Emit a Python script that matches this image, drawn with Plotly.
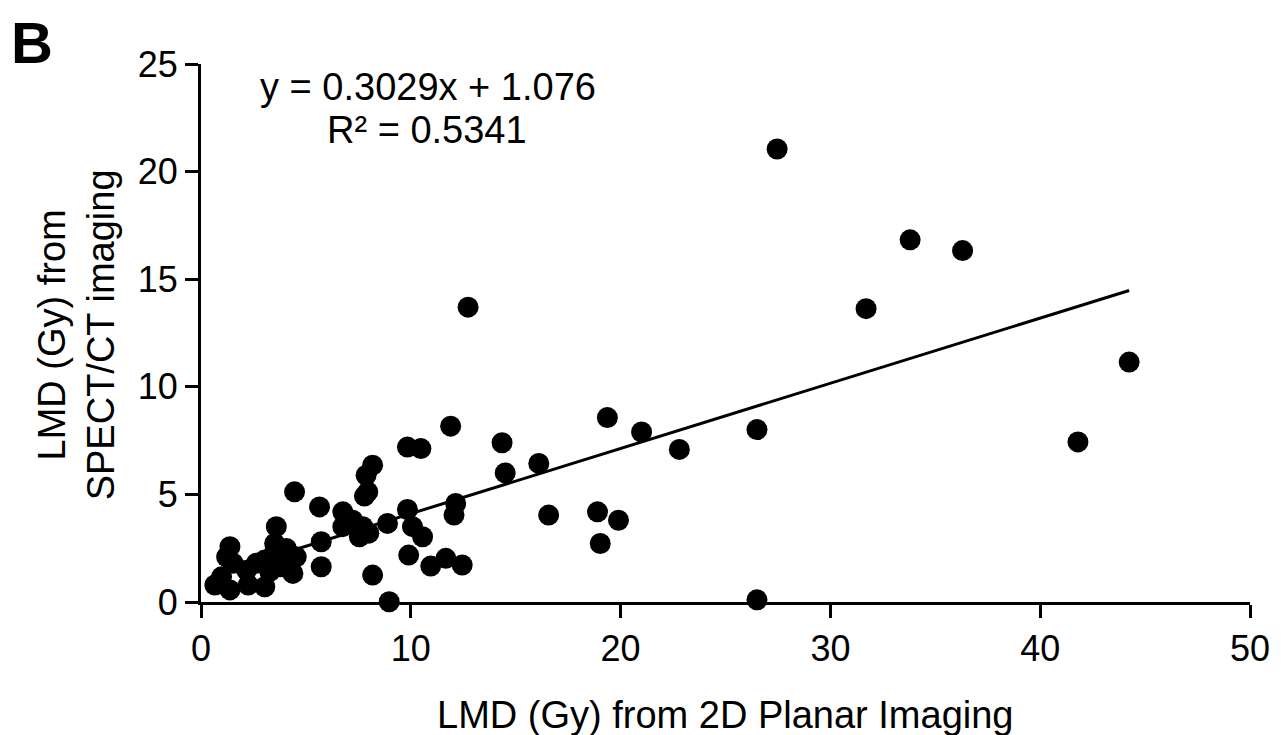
import plotly.graph_objects as go

# LMD (Gy) from 2D planar imaging (x) vs SPECT/CT imaging (y)
planar_x = [27.46, 33.8, 36.3, 31.7, 44.24, 41.8, 26.5, 26.5, 12.73,
            11.9, 9.84, 10.48, 14.35, 14.5, 16.1, 19.37, 21.0, 22.8, 12.14, 12.06,
            16.57, 18.9, 19.9, 19.03, 9.84, 10.08, 10.56, 9.9, 10.95, 11.67, 12.45,
            8.18, 7.87, 7.95, 7.79, 4.46, 5.65, 6.76, 7.23, 7.71, 8.0, 7.55, 6.76,
            8.89, 5.73, 5.73, 8.18, 8.97, 3.59, 3.51, 4.07, 4.54, 4.38, 1.38, 1.22,
            1.53, 2.17, 2.64, 3.04, 3.43, 2.25, 3.04, 0.66, 0.98, 1.38, 3.75, 3.28]
spect_y = [21.05, 16.83, 16.33, 13.63, 11.15, 7.44, 8.01, 0.1, 13.7,
           8.17, 7.2, 7.13, 7.4, 6.0, 6.44, 8.57, 7.9, 7.09, 4.58, 4.04,
           4.04, 4.19, 3.8, 2.72, 4.3, 3.5, 3.03, 2.18, 1.67, 2.03, 1.72,
           6.36, 5.89, 5.12, 4.92, 5.12, 4.42, 4.19, 3.8, 3.5, 3.2, 3.03, 3.5,
           3.65, 2.8, 1.64, 1.25, 0.01, 3.5, 2.72, 2.49, 2.1, 1.33, 2.57, 2.1,
           1.8, 1.48, 1.8, 1.95, 2.18, 0.79, 0.71, 0.79, 1.17, 0.56, 1.64, 1.41]

slope = 0.3029
intercept = 1.076
fit_x = [min(planar_x), max(planar_x)]
fit_y = [slope * v + intercept for v in fit_x]

x_ticks = [0, 10, 20, 30, 40, 50]
y_ticks = [0, 5, 10, 15, 20, 25]

FONT = "Liberation Sans, Arial, sans-serif"

fig = go.Figure()
fig.add_trace(go.Scatter(x=fit_x, y=fit_y, mode="lines",
                         line=dict(color="black", width=3), cliponaxis=False,
                         showlegend=False, hoverinfo="skip"))
fig.add_trace(go.Scatter(x=planar_x, y=spect_y, mode="markers",
                         marker=dict(color="black", size=21, line=dict(width=0)),
                         cliponaxis=False, showlegend=False))

axis_common = dict(showgrid=False, zeroline=False, showline=True, linecolor="black",
                   linewidth=3, ticks="outside", ticklen=13, tickwidth=3,
                   tickcolor="black", tickfont=dict(family=FONT, size=36, color="black"))

fig.update_xaxes(range=[0, 50], tickvals=x_ticks, **axis_common)
fig.update_yaxes(range=[0, 25], tickvals=y_ticks, **axis_common)

fig.update_layout(
    width=1274, height=727,
    margin=dict(l=193, r=30, t=56, b=133),
    plot_bgcolor="white", paper_bgcolor="white",
    font=dict(family=FONT, color="black"),
    annotations=[
        dict(text="y = 0.3029x + 1.076", x=10.8, y=23.93, xref="x", yref="y",
             showarrow=False, xanchor="center", yanchor="middle",
             font=dict(size=38, family=FONT)),
        dict(text="R² = 0.5341", x=10.75, y=21.93, xref="x", yref="y",
             showarrow=False, xanchor="center", yanchor="middle",
             font=dict(size=38, family=FONT)),
        dict(text="<b>B</b>", x=-0.1608, y=1.102, xref="paper", yref="paper",
             showarrow=False, xanchor="center", yanchor="top", borderpad=0,
             font=dict(size=58, family=FONT)),
        dict(text="LMD (Gy) from 2D Planar Imaging", x=0.5, y=-0.21,
             xref="paper", yref="paper", showarrow=False,
             xanchor="center", yanchor="middle", font=dict(size=38, family=FONT)),
        dict(text="LMD (Gy) from<br>SPECT/CT imaging", x=-0.119, y=0.496,
             xref="paper", yref="paper", showarrow=False, textangle=-90,
             xanchor="center", yanchor="middle", font=dict(size=38, family=FONT)),
    ],
)

fig.write_html("out.html")
